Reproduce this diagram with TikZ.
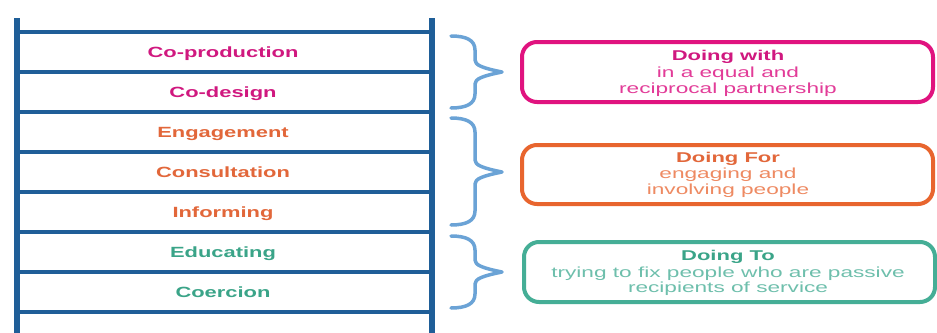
\documentclass[tikz,border=0pt]{standalone}
\usepackage{fontspec}
\setmainfont{Liberation Sans}
\newfontfamily\ladfont[FakeStretch=1.48]{Liberation Sans}
\newfontfamily\boxfont[FakeStretch=1.55]{Liberation Sans}
\definecolor{railblue}{HTML}{1F5E98}
\definecolor{bracebl}{HTML}{6BA3D6}
\definecolor{magA}{HTML}{D0187F}
\definecolor{magB}{HTML}{E23C98}
\definecolor{magBorder}{HTML}{E0137F}
\definecolor{orgA}{HTML}{E2673A}
\definecolor{orgB}{HTML}{EE8A62}
\definecolor{orgBorder}{HTML}{E8652E}
\definecolor{tealA}{HTML}{3AA488}
\definecolor{tealB}{HTML}{6EBFAC}
\definecolor{tealBorder}{HTML}{45AE96}
\tikzset{
  rail/.style={draw=railblue, line width=6pt},
  rung/.style={draw=railblue, line width=4pt},
  bracestyle/.style={draw=bracebl, line width=3.5pt, line cap=round, line join=round},
  ladlabel/.style={anchor=base, inner sep=0pt, font=\ladfont\bfseries\fontsize{14.8}{17}\selectfont},
  groupbox/.style={rounded corners=15pt, line width=4pt, minimum width=411pt, minimum height=60pt, inner sep=0pt},
  boxtitle/.style={anchor=base, inner sep=0pt, font=\boxfont\bfseries\fontsize{14.2}{17}\selectfont},
  boxbody/.style={anchor=base, inner sep=0pt, font=\boxfont\fontsize{14.6}{17}\selectfont}
}
\newcommand\mybrace[3]{%
  \draw[bracestyle] (451,#1) .. controls (466,#1) and (475,{#1+4}) .. (475,{#1+14})
    -- (475,{#2-12}) .. controls (475,{#2-7}) and (482,{#2-4}) .. (502,#2)
    .. controls (482,{#2+4}) and (475,{#2+7}) .. (475,{#2+12})
    -- (475,{#3-14}) .. controls (475,{#3-4}) and (466,#3) .. (451,#3);}
\begin{document}
\begin{tikzpicture}[x=1pt,y=-1pt]
\useasboundingbox (0,0) rectangle (937,332);
\fill[white] (0,0) rectangle (937,332);
% ladder
\draw[rail] (16.5,18) -- (16.5,335);
\draw[rail] (432,18) -- (432,335);
\foreach \y in {32,72,112,152,192,232,272,312}
  \draw[rung] (16.5,\y) -- (432,\y);
% ladder labels
\node[ladlabel, text=magA] (l1) at (223,57.5) {Co-production};
\node[ladlabel, text=magA] (l2) at (223,97.5) {Co-design};
\node[ladlabel, text=orgA] (l3) at (223,137.5) {Engagement};
\node[ladlabel, text=orgA] (l4) at (223,177.5) {Consultation};
\node[ladlabel, text=orgA] (l5) at (223,217.5) {Informing};
\node[ladlabel, text=tealA] (l6) at (223,257.5) {Educating};
\node[ladlabel, text=tealA] (l7) at (223,297.5) {Coercion};
% braces
\mybrace{36}{72}{108}
\mybrace{118}{172}{225}
\mybrace{236}{272}{308}
% boxes
\node[groupbox, draw=magBorder] (b1) at (727.5,72) {};
\node[groupbox, draw=orgBorder, minimum height=59pt] (b2) at (727.5,174.5) {};
\node[groupbox, draw=tealBorder] (b3) at (729.5,272) {};
% box texts
\node[boxtitle, text=magA] (b1t) at (728,60) {Doing with};
\node[boxbody, text=magB] (b1a) at (728,77) {in a equal and};
\node[boxbody, text=magB] (b1b) at (728,93) {reciprocal partnership};
\node[boxtitle, text=orgA] (b2t) at (728,162) {Doing For};
\node[boxbody, text=orgB] (b2a) at (728,178) {engaging and};
\node[boxbody, text=orgB] (b2b) at (728,194) {involving people};
\node[boxtitle, text=tealA] (b3t) at (728,260) {Doing To};
\node[boxbody, text=tealB] (b3a) at (728,277) {trying to fix people who are passive};
\node[boxbody, text=tealB] (b3b) at (728,292) {recipients of service};
\end{tikzpicture}
\end{document}
